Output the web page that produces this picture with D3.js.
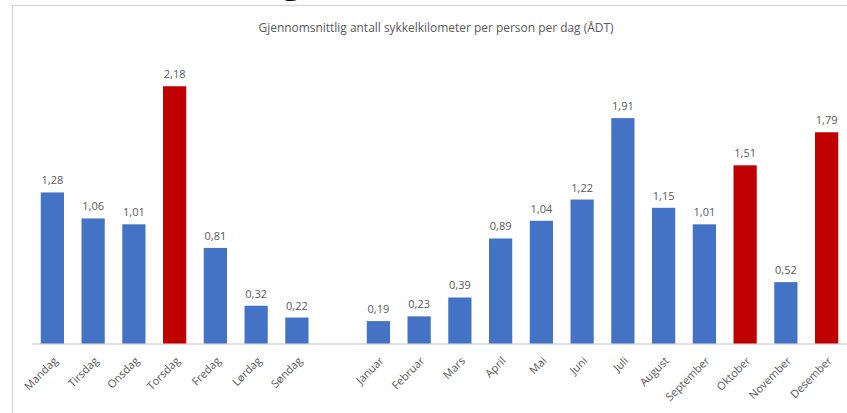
<!DOCTYPE html>
<html><head><meta charset="utf-8">
<script src="https://cdn.jsdelivr.net/npm/d3@7"></script>
<style>
html,body{margin:0;padding:0;background:#fff;overflow:hidden;}
svg{display:block;}
text{font-family:"Open Sans","Noto Sans",sans-serif;}
</style></head>
<body>
<svg id="chart" width="847" height="413"></svg>
<script>
const title = "Gjennomsnittlig antall sykkelkilometer per person per dag (ÅDT)";
const weekdays = ["Mandag","Tirsdag","Onsdag","Torsdag","Fredag","Lørdag","Søndag"];
const weekdayValues = [1.28,1.06,1.01,2.18,0.81,0.32,0.22];
const months = ["Januar","Februar","Mars","April","Mai","Juni","Juli","August","September","Oktober","November","Desember"];
const monthValues = [0.19,0.23,0.39,0.89,1.04,1.22,1.91,1.15,1.01,1.51,0.52,1.79];
const highlighted = ["Torsdag","Oktober","Desember"];
const yMax = 2.5;

const blue = "#4472C4", red = "#C00000";
const svg = d3.select("#chart");

// fragments of a cropped slide heading above the chart box
const frag = svg.append("text").attr("y", -9).attr("font-size", 40).attr("fill", "#000")
  .attr("font-family", "Liberation Sans, sans-serif");
[["g",281],["(",346],[",",409],[",",504]].forEach(([t,x]) => frag.append("tspan").attr("x", x).text(t));

// chart box (left and top edges visible)
svg.append("line").attr("x1", 12.5).attr("x2", 12.5).attr("y1", 5).attr("y2", 413)
  .attr("stroke", "#d9d9d9").attr("stroke-width", 1.5);
svg.append("line").attr("x1", 12).attr("x2", 847).attr("y1", 5.5).attr("y2", 5.5)
  .attr("stroke", "#d9d9d9").attr("stroke-width", 1.5);

svg.append("text").attr("x", 436).attr("y", 32).attr("text-anchor", "middle")
  .attr("font-size", 12).attr("fill", "#595959")
  .attr("textLength", 355).attr("lengthAdjust", "spacingAndGlyphs").text(title);

const gapKey = " ";
const cats = weekdays.concat([gapKey], months);
const data = weekdays.map((c,i) => ({c, v: weekdayValues[i]}))
  .concat(months.map((c,i) => ({c, v: monthValues[i]})));

const x = d3.scaleBand().domain(cats).range([32, 847]).paddingInner(0.43).paddingOuter(0.215);
const y = d3.scaleLinear().domain([0, yMax]).range([343.5, 48.5]);

svg.append("line").attr("x1", 32).attr("x2", 847).attr("y1", y(0)+0.5).attr("y2", y(0)+0.5)
  .attr("stroke", "#d9d9d9").attr("stroke-width", 1.5);

svg.selectAll("rect.bar").data(data).join("rect").attr("class", "bar")
  .attr("x", d => x(d.c)).attr("width", x.bandwidth())
  .attr("y", d => y(d.v)).attr("height", d => y(0) - y(d.v))
  .attr("fill", d => highlighted.includes(d.c) ? red : blue);

const fmt = d3.format(".2f");
svg.selectAll("text.val").data(data).join("text").attr("class", "val")
  .attr("x", d => x(d.c) + x.bandwidth()/2).attr("y", d => y(d.v) - 8)
  .attr("text-anchor", "middle").attr("font-size", 11).attr("fill", "#595959")
  .text(d => fmt(d.v).replace(".", ","));

svg.selectAll("text.cat").data(data).join("text").attr("class", "cat")
  .attr("transform", d => `translate(${x(d.c) + x.bandwidth()/2 + 6},${y(0) + 18}) rotate(-45)`)
  .attr("text-anchor", "end").attr("font-size", 11).attr("fill", "#595959")
  .text(d => d.c);
</script>
</body></html>
